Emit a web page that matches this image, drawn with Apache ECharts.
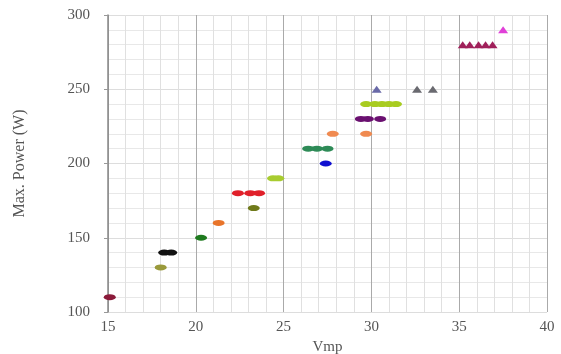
<!DOCTYPE html>
<html>
<head>
<meta charset="utf-8">
<script src="https://cdn.jsdelivr.net/npm/echarts@6/dist/echarts.min.js"></script>
<style>
  html, body { margin: 0; padding: 0; background: #fff; }
  #chart { width: 561px; height: 354px; }
</style>
</head>
<body>
<div id="chart"></div>
<script>
// each group: [Vmp, Max power]
const maroon = [[15.1, 110]];
const khaki = [[18.0, 130]];
const black = [[18.2, 140], [18.6, 140]];
const green = [[20.3, 150]];
const orange1 = [[21.3, 160]];
const olive = [[23.3, 170]];
const red = [[22.4, 180], [23.1, 180], [23.6, 180]];
const lime1 = [[24.4, 190], [24.7, 190]];
const blue = [[27.4, 200]];
const teal = [[26.4, 210], [26.9, 210], [27.5, 210]];
const orange2 = [[27.8, 220], [29.7, 220]];
const purple = [[29.4, 230], [29.8, 230], [30.5, 230]];
const lime2 = [[29.7, 240], [30.2, 240], [30.6, 240], [31.0, 240], [31.4, 240]];
const slate = [[30.3, 250]];
const gray = [[32.6, 250], [33.5, 250]];
const plum = [[35.2, 280], [35.6, 280], [36.1, 280], [36.5, 280], [36.9, 280]];
const pink = [[37.5, 290]];

const xTicks = { min: 15, max: 40, step: 5 };
const yTicks = { min: 100, max: 300, step: 50 };

const font = 'Liberation Serif';
const chart = echarts.init(document.getElementById('chart'));

function oval(data, color) {
  return { type: 'scatter', data: data, symbol: 'circle', symbolSize: [12, 6],
    itemStyle: { color: color, opacity: 1 }, silent: true };
}
function tri(data, color) {
  return { type: 'scatter', data: data, symbol: 'triangle', symbolSize: [10, 7],
    itemStyle: { color: color, opacity: 1 }, silent: true };
}

chart.setOption({
  animation: false,
  grid: { left: 108, right: 14, top: 15, bottom: 42, outerBoundsMode: 'none' },
  xAxis: {
    type: 'value', min: xTicks.min, max: xTicks.max, interval: xTicks.step,
    name: 'Vmp', nameLocation: 'middle', nameGap: 24,
    nameTextStyle: { fontFamily: font, fontSize: 15, color: '#555' },
    axisLine: { show: false },
    axisTick: { show: false },
    axisLabel: { fontFamily: font, fontSize: 15, color: '#555', margin: 8 },
    splitLine: { show: true, lineStyle: { color: '#aaa', width: 1 } },
    minorTick: { show: false, splitNumber: 5 },
    minorSplitLine: { show: true, lineStyle: { color: '#e0e0e0', width: 1 } }
  },
  yAxis: {
    type: 'value', min: yTicks.min, max: yTicks.max, interval: yTicks.step,
    name: 'Max. Power (W)', nameLocation: 'middle', nameGap: 80,
    nameTextStyle: { fontFamily: font, fontSize: 16, color: '#555' },
    axisLine: { show: true, lineStyle: { color: '#888', width: 1.5 } },
    axisTick: { show: true, length: 4, lineStyle: { color: '#999' } },
    axisLabel: { fontFamily: font, fontSize: 15, color: '#555', margin: 18 },
    splitLine: { show: true, lineStyle: { color: '#ddd', width: 1 } },
    minorTick: { show: false, splitNumber: 5 },
    minorSplitLine: { show: true, lineStyle: { color: '#e8e8e8', width: 1 } }
  },
  series: [
    oval(maroon, '#8b1a3a'),
    oval(khaki, '#9a9a3c'),
    oval(black, '#111111'),
    oval(green, '#1e7a1e'),
    oval(orange1, '#e8742a'),
    oval(olive, '#6f7a1a'),
    oval(red, '#e0202a'),
    oval(lime1, '#a8cc30'),
    oval(blue, '#1010d0'),
    oval(teal, '#2e8b57'),
    oval(orange2, '#f08a50'),
    oval(purple, '#6a1070'),
    oval(lime2, '#a8cc20'),
    tri(slate, '#6a6aa8'),
    tri(gray, '#6a6a70'),
    tri(plum, '#a0205a'),
    tri(pink, '#e040d8')
  ]
});
</script>
</body>
</html>
